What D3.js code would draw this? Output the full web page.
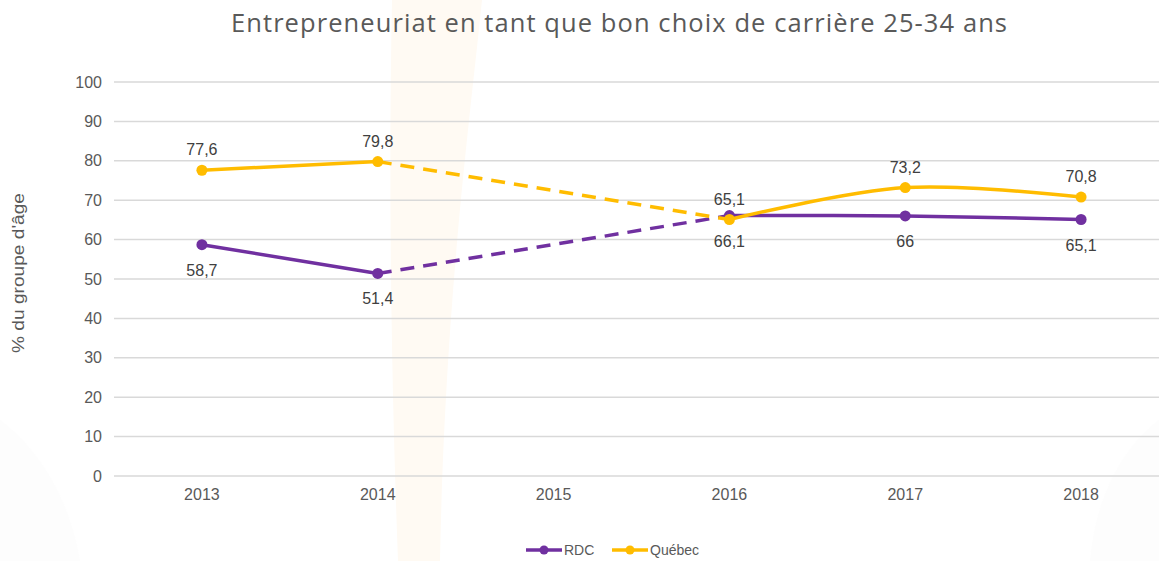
<!DOCTYPE html>
<html>
<head>
<meta charset="utf-8">
<script src="https://cdn.jsdelivr.net/npm/d3@7"></script>
<style>
  body { margin: 0; background: #fff; }
  svg { display: block; font-family: "Liberation Sans", Arial, sans-serif; }
</style>
</head>
<body>
<svg id="chart" width="1159" height="561"></svg>
<script>
// Data
const years = ['2013', '2014', '2015', '2016', '2017', '2018'];
const rdcValues = [58.7, 51.4, null, 66.1, 66, 65.1];
const quebecValues = [77.6, 79.8, null, 65.1, 73.2, 70.8];
const yTicks = [0, 10, 20, 30, 40, 50, 60, 70, 80, 90, 100];
const seriesNames = ['RDC', 'Québec'];
const seriesColors = ['#7030A0', '#FFBC00'];

(function() {
  'use strict';

  const svg = d3.select('#chart');
  const width = 1159;
  const height = 561;
  const margin = { left: 114, right: -10, top: 82, bottom: 85 };

  // faint watermark shapes in the background
  svg.append('path')
    .attr('d', 'M392,0 L482,0 C470,120 445,300 440,561 L398,561 C392,400 388,200 392,0 Z')
    .attr('fill', '#FFFAF3');
  svg.append('path')
    .attr('d', 'M0,420 C40,450 70,500 80,561 L0,561 Z')
    .attr('fill', '#FDFDFD');
  svg.append('path')
    .attr('d', 'M1159,420 C1120,450 1095,500 1090,561 L1159,561 Z')
    .attr('fill', '#FDFDFD');

  const x = d3.scaleBand()
    .domain(years)
    .range([margin.left, width - margin.right]);

  const y = d3.scaleLinear()
    .domain([0, 100])
    .range([height - margin.bottom, margin.top]);

  const cx = d => x(d) + x.bandwidth() / 2;

  // title
  svg.append('text')
    .attr('x', 231)
    .attr('y', 32)
    .attr('fill', '#595959')
    .attr('textLength', 776)
    .attr('lengthAdjust', 'spacing')
    .style('font-family', '"Open Sans", "Noto Sans", sans-serif')
    .style('font-size', '25.5px')
    .text('Entrepreneuriat en tant que bon choix de carrière 25-34 ans');

  // gridlines
  svg.append('g')
    .selectAll('line')
    .data(yTicks)
    .join('line')
    .attr('x1', margin.left)
    .attr('x2', width)
    .attr('y1', d => y(d))
    .attr('y2', d => y(d))
    .attr('stroke', '#D9D9D9')
    .attr('stroke-width', 1.5);

  // y axis labels
  const yAxis = svg.append('g')
    .attr('transform', `translate(${margin.left},0)`)
    .call(d3.axisLeft(y).tickValues(yTicks).tickSize(0).tickPadding(12));
  yAxis.select('.domain').remove();
  yAxis.selectAll('text')
    .attr('fill', '#595959')
    .style('font-size', '16px')
    .style('font-family', '"Liberation Sans", Arial, sans-serif');

  // x axis labels
  const xAxis = svg.append('g')
    .attr('transform', `translate(0,${y(0)})`)
    .call(d3.axisBottom(x).tickSize(0).tickPadding(13));
  xAxis.select('.domain').remove();
  xAxis.selectAll('text')
    .attr('fill', '#595959')
    .style('font-size', '16px')
    .style('font-family', '"Liberation Sans", Arial, sans-serif');

  // y axis title
  svg.append('text')
    .attr('transform', 'translate(24,273) rotate(-90)')
    .attr('text-anchor', 'middle')
    .attr('fill', '#595959')
    .attr('textLength', 160)
    .attr('lengthAdjust', 'spacingAndGlyphs')
    .style('font-size', '17px')
    .text("% du groupe d'âge");

  const allSeries = [rdcValues, quebecValues];

  const straight = d3.line().x(d => cx(d.year)).y(d => y(d.value));
  const smooth = d3.line().x(d => cx(d.year)).y(d => y(d.value)).curve(d3.curveCatmullRom.alpha(0.5));

  allSeries.forEach((values, si) => {
    const color = seriesColors[si];
    const pts = years.map((yr, i) => ({ year: yr, value: values[i] }));
    const valid = pts.filter(p => p.value !== null);

    // split into runs of consecutive points, and dashed bridges over gaps
    const runs = [];
    let cur = [];
    pts.forEach(p => {
      if (p.value === null) {
        if (cur.length) runs.push(cur);
        cur = [];
      } else {
        cur.push(p);
      }
    });
    if (cur.length) runs.push(cur);

    for (let r = 0; r < runs.length - 1; r++) {
      const a = runs[r][runs[r].length - 1];
      const b = runs[r + 1][0];
      svg.append('path')
        .attr('d', straight([a, b]))
        .attr('fill', 'none')
        .attr('stroke', color)
        .attr('stroke-width', 3.5)
        .attr('stroke-dasharray', '14,9');
    }

    runs.forEach(run => {
      svg.append('path')
        .attr('d', (run.length > 2 ? smooth : straight)(run))
        .attr('fill', 'none')
        .attr('stroke', color)
        .attr('stroke-width', 3.5)
        .attr('stroke-linejoin', 'round');
    });

    svg.append('g')
      .selectAll('circle')
      .data(valid)
      .join('circle')
      .attr('cx', d => cx(d.year))
      .attr('cy', d => y(d.value))
      .attr('r', 5.5)
      .attr('fill', color);

    // value labels: Québec above, RDC below
    svg.append('g')
      .selectAll('text')
      .data(valid)
      .join('text')
      .attr('x', d => cx(d.year))
      .attr('y', d => si === 0 ? y(d.value) + 31 : y(d.value) - 15)
      .attr('text-anchor', 'middle')
      .attr('fill', '#404040')
      .style('font-size', '16px')
      .text(d => String(d.value).replace('.', ','));
  });

  // legend
  const legend = svg.append('g').attr('transform', 'translate(526,550)');
  const items = [{ name: seriesNames[0], color: seriesColors[0], x: 0 }, { name: seriesNames[1], color: seriesColors[1], x: 86 }];
  items.forEach(it => {
    const g = legend.append('g').attr('transform', `translate(${it.x},0)`);
    g.append('line')
      .attr('x1', 0).attr('x2', 36)
      .attr('stroke', it.color)
      .attr('stroke-width', 3.5);
    g.append('circle')
      .attr('cx', 18).attr('r', 4.5)
      .attr('fill', it.color);
    g.append('text')
      .attr('x', 38)
      .attr('y', 5)
      .attr('fill', '#595959')
      .style('font-size', '14px')
      .text(it.name);
  });
})();
</script>
</body>
</html>
